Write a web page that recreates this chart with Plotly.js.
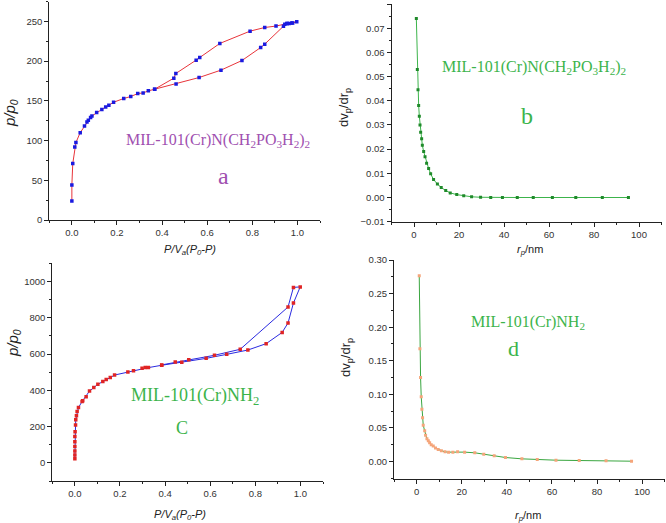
<!DOCTYPE html>
<html><head><meta charset="utf-8">
<script src="https://cdn.plot.ly/plotly-3.0.1.min.js"></script>
<style>html,body{margin:0;padding:0;background:#fff}#plot{width:666px;height:523px}</style>
</head><body><div id="plot"></div>
<script>
// Panel a: N2 isotherm MIL-101(Cr)N(CH2PO3H2)2 (adsorption then desorption)
const aX = [0.000,0.000,0.004,0.013,0.018,0.037,0.056,0.067,0.073,0.083,0.089,0.110,0.133,0.150,0.164,0.185,0.230,0.261,0.292,0.316,0.339,0.367,0.462,0.564,0.661,0.754,0.837,0.855,0.938,0.944,0.953,0.963,0.979,0.997,
            0.975,0.955,0.905,0.855,0.790,0.656,0.567,0.551,0.461,0.452,0.367];
const aY = [24,44,71,92,97.5,110,118.5,123.5,125.6,129,131,135.3,139,142.4,144.5,148.3,153,155.5,159.2,160,162.6,164.7,171.4,179.4,188.7,200.8,217.2,221.4,244,246.6,247.5,247.5,248,249.6,
            248,247.3,244.2,242.4,237.8,222.3,204.6,201.3,184.5,178.6,164.7];
// Panel b: pore size distribution MIL-101(Cr)N(CH2PO3H2)2
const bX = [1.04,1.48,1.78,2.07,2.37,2.67,2.96,3.4,3.7,4.3,4.9,5.6,6.5,7.4,8.7,10.4,12.1,14.1,16.1,19.0,22.1,25.6,29.6,34.1,39.3,45.9,53.0,61.5,71.9,83.7,95.3];
const bY = [0.074,0.0529,0.0446,0.038,0.0336,0.030,0.027,0.0243,0.0216,0.019,0.0168,0.0142,0.012,0.0098,0.0074,0.0056,0.0041,0.0029,0.0019,0.0012,0.0007,0.0003,0.0001,0,0,0,0,0,0,0,0];
// Panel c: N2 isotherm MIL-101(Cr)NH2
const cX = [0.000,0.000,0.000,0.000,0.000,0.000,0.001,0.003,0.004,0.007,0.010,0.016,0.032,0.035,0.050,0.065,0.084,0.102,0.124,0.139,0.157,0.176,0.235,0.260,0.298,0.312,0.326,0.385,0.474,0.582,0.673,0.767,0.848,0.919,0.945,0.969,0.999,
            0.969,0.945,0.733,0.619,0.505,0.445,0.385];
const cY = [22,44,66,90,117,145,172,209,237,259,283,305,338,343,365,396,415,433,448,460,470,484,501,508,521,525,525,538,554,576,598,622,657,719,771,881,970,
            967,859,626,593,569,556,540];
// Panel d: pore size distribution MIL-101(Cr)NH2
const dX = [1.19,1.48,1.78,2.07,2.37,2.67,2.96,3.6,4.0,4.6,5.2,5.8,6.5,7.4,8.4,9.6,11.0,12.6,14.2,16.1,18.2,21.3,25.8,29.8,34.4,39.4,46.7,53.5,61.8,72.1,84.0,95.3];
const dY = [0.2764,0.168,0.125,0.0964,0.078,0.065,0.054,0.0457,0.039,0.034,0.031,0.028,0.025,0.023,0.020,0.018,0.016,0.0144,0.014,0.014,0.0144,0.014,0.013,0.011,0.0085,0.006,0.004,0.003,0.002,0.0015,0.001,0.0005];

const W = 666, H = 523;
const px = v => v / W, py = v => 1 - v / H;
const tickFont = {family: 'Liberation Sans, Arial, sans-serif', size: 9.5, color: '#333'};
function ax(anchor, domain, range, dtick, minorD, fmt) {
  return {anchor: anchor, domain: domain, range: range, dtick: dtick, tick0: 0, showline: true, linecolor: '#222', linewidth: 1,
    ticks: 'outside', ticklen: 4, tickcolor: '#222', tickwidth: 1, showgrid: false, zeroline: false,
    tickfont: tickFont, tickformat: fmt, fixedrange: true,
    minor: {dtick: minorD, ticks: 'outside', ticklen: 2, tickcolor: '#222', showgrid: false}};
}
const traces = [
  {x: aX, y: aY, xaxis: 'x', yaxis: 'y', mode: 'lines+markers', line: {color: '#e8343a', width: 1},
   marker: {symbol: 'square', size: 3.5, color: '#1a1ae0'}},
  {x: bX, y: bY, xaxis: 'x2', yaxis: 'y2', mode: 'lines+markers', line: {color: '#3cb44b', width: 1},
   marker: {symbol: 'square', size: 3, color: '#1f8a2a'}},
  {x: cX, y: cY, xaxis: 'x3', yaxis: 'y3', mode: 'lines+markers', line: {color: '#2a2ae0', width: 1},
   marker: {symbol: 'square', size: 3.5, color: '#e02424'}},
  {x: dX, y: dY, xaxis: 'x4', yaxis: 'y4', mode: 'lines+markers', line: {color: '#3aa640', width: 1},
   marker: {symbol: 'square', size: 3, color: '#f5a57a'}}
];
const purple = '#a050b0', green = '#3cb44b';
const serif = 'Liberation Serif, Times New Roman, serif';
const sans = 'Liberation Sans, Arial, sans-serif';
function ann(text, x, y, size, color, fam, rot) {
  return {text: text, x: px(x), y: py(y), xref: 'paper', yref: 'paper', showarrow: false,
    xanchor: 'center', yanchor: 'middle', textangle: rot || 0, font: {family: fam, size: size, color: color}};
}
const layout = {
  width: W, height: H, margin: {l: 0, r: 0, t: 0, b: 0}, showlegend: false,
  paper_bgcolor: '#fff', plot_bgcolor: '#fff',
  xaxis: ax('y', [px(49.3), px(320)], [-0.1, 1.1], 0.2, 0.1, '.1f'),
  yaxis: ax('x', [py(220), py(1.6)], [0, 275], 50, 25),
  xaxis2: ax('y2', [px(391.5), px(661.5)], [-10, 110], 20, 10),
  yaxis2: ax('x2', [py(221.7), py(4)], [-0.01, 0.08], 0.01, 0.005, '.2f'),
  xaxis3: ax('y3', [px(52.3), px(323)], [-0.1, 1.1], 0.2, 0.1, '.1f'),
  yaxis3: ax('x3', [py(481), py(263.3)], [-100, 1100], 200, 100),
  xaxis4: ax('y4', [px(394), px(664.7)], [-10, 110], 20, 10),
  yaxis4: ax('x4', [py(479), py(260)], [-0.026, 0.30], 0.05, 0.025, '.2f'),
  annotations: [
    ann('MIL-101(Cr)N(CH<sub>2</sub>PO<sub>3</sub>H<sub>2</sub>)<sub>2</sub>', 218, 140, 16, purple, serif),
    ann('a', 223, 176, 24, purple, serif),
    ann('MIL-101(Cr)N(CH<sub>2</sub>PO<sub>3</sub>H<sub>2</sub>)<sub>2</sub>', 534, 68, 16, green, serif),
    ann('b', 527, 116, 24, green, serif),
    ann('MIL-101(Cr)NH<sub>2</sub>', 195, 396, 18, green, serif),
    ann('C', 182, 428, 18, green, serif),
    ann('MIL-101(Cr)NH<sub>2</sub>', 528, 322, 16, green, serif),
    ann('d', 513, 348, 22, green, serif),
    ann('<i>p/p<sub>0</sub></i>', 11, 113, 15, '#222', sans, -90),
    ann('dv<sub>p</sub>/dr<sub>p</sub>', 345, 108, 13, '#222', sans, -90),
    ann('<i>p/p<sub>0</sub></i>', 13, 343, 15, '#222', sans, -90),
    ann('dv<sub>p</sub>/dr<sub>p</sub>', 346, 357, 13, '#222', sans, -90),
    ann('<i>P/V<sub>a</sub>(P<sub>0</sub>-P)</i>', 190, 250, 11, '#222', sans),
    ann('<i>r<sub>p</sub></i>/nm', 530, 250, 11, '#222', sans),
    ann('<i>P/V<sub>a</sub>(P<sub>0</sub>-P)</i>', 180, 515, 11, '#222', sans),
    ann('<i>r<sub>p</sub></i>/nm', 528, 516, 11, '#222', sans)
  ]
};
Plotly.newPlot('plot', traces, layout, {displayModeBar: false, staticPlot: true});
</script></body></html>
